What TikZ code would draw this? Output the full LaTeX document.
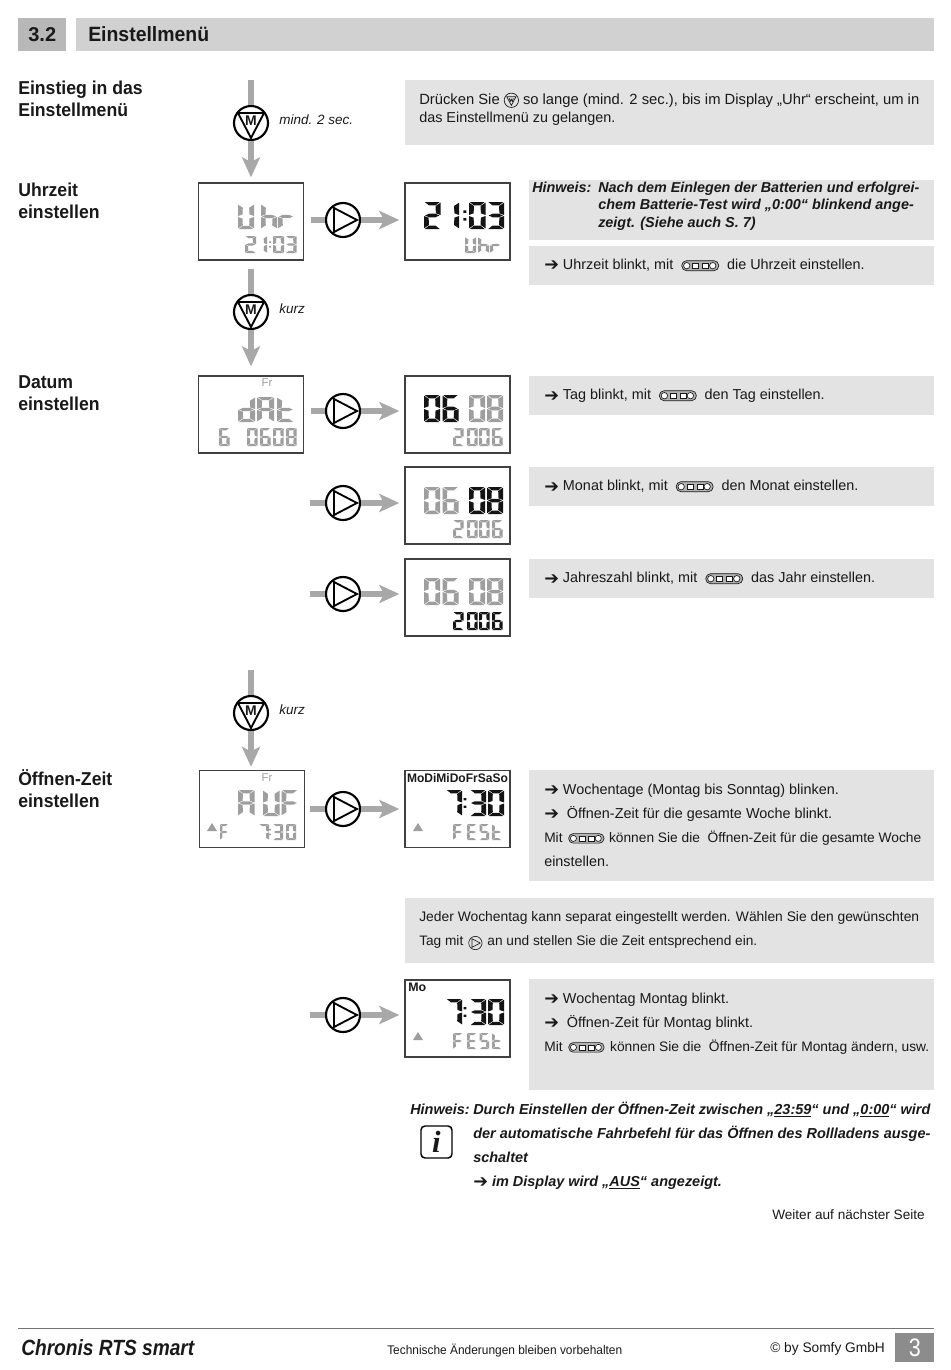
\documentclass[tikz,border=0pt]{standalone}
\usepackage{fontspec}
\usepackage{graphicx}
\setmainfont{Liberation Sans}
\newfontfamily\arrfont{DejaVu Sans}
\newfontfamily\ifont{Liberation Serif}
\usetikzlibrary{arrows.meta,positioning,calc}

\def\px{0.75pt}
\definecolor{panelgray}{gray}{0.89}
\definecolor{titlegray}{gray}{0.82}
\definecolor{numgray}{gray}{0.72}
\definecolor{pagegray}{gray}{0.55}
\definecolor{flowgray}{gray}{0.66}
\definecolor{lcdoff}{gray}{0.62}
\definecolor{lcdon}{gray}{0.08}

% seven segment cells, unit box 1 x 2
\newcommand{\defseg}[2]{\expandafter\def\csname seg#1\endcsname{#2}}
\newcommand{\defglyph}[2]{\expandafter\def\csname glyph#1\endcsname{#2}}
\defseg{a}{(.05,0) -- (.95,0) -- (.7,.25) -- (.3,.25) -- cycle}
\defseg{b}{(1,.05) -- (1,.96) -- (.72,.84) -- (.7,.3) -- cycle}
\defseg{c}{(1,1.04) -- (1,1.95) -- (.7,1.7) -- (.72,1.16) -- cycle}
\defseg{d}{(.05,2) -- (.95,2) -- (.7,1.75) -- (.3,1.75) -- cycle}
\defseg{e}{(0,1.04) -- (0,1.95) -- (.3,1.7) -- (.28,1.16) -- cycle}
\defseg{f}{(0,.05) -- (0,.96) -- (.28,.84) -- (.3,.3) -- cycle}
\defseg{g}{(.07,1) -- (.3,.87) -- (.7,.87) -- (.93,1) -- (.7,1.13) -- (.3,1.13) -- cycle}
\defseg{k}{(.41,.62) rectangle (.59,.8) (.41,1.2) rectangle (.59,1.38)}
\defglyph{0}{a,b,c,d,e,f}
\defglyph{1}{b,c}
\defglyph{2}{a,b,d,e,g}
\defglyph{3}{a,b,c,d,g}
\defglyph{6}{a,c,d,e,f,g}
\defglyph{7}{a,b,c}
\defglyph{8}{a,b,c,d,e,f,g}
\defglyph{:}{k}
\defglyph{A}{a,b,c,e,f,g}
\defglyph{E}{a,d,e,f,g}
\defglyph{F}{a,e,f,g}
\defglyph{S}{a,c,d,f,g}
\defglyph{U}{b,c,d,e,f}
\defglyph{d}{b,c,d,e,g}
\defglyph{h}{c,e,f,g}
\defglyph{r}{e,g}
\defglyph{t}{d,e,f,g}
% \lcdrow{top}{cell width}{cell height}{colour}{x/char,...}
\newcommand{\lcdrow}[5]{%
  \foreach \gx/\gc in {#5} {%
    \begin{scope}[shift={(\gx,#1)}, xscale=#2, yscale=#3/2]
      \edef\seglist{\csname glyph\gc\endcsname}
      \foreach \gs in \seglist {%
        \expandafter\let\expandafter\segpath\csname seg\gs\endcsname
        \fill[#4] \segpath;
      }
    \end{scope}
  }%
}

% small key symbols used inside the running text
\newcommand{\kicon}{\tikz[baseline=-3pt, x=\px, y=-\px, line width=.5pt]{
  \draw[fill=gray!60, rounded corners=3.6pt] (0,-5) rectangle (37,5);
  \draw[fill=white] (5,0) circle (3.2);
  \draw[fill=white] (11,-2.6) rectangle (17,2.6);
  \draw[fill=white] (21,-2.6) rectangle (27,2.6);
  \draw[fill=white] (31,0) circle (3.2);}}
\newcommand{\micon}{\tikz[baseline=-3.2pt, x=\px, y=-\px, line width=.5pt]{
  \draw (0,0) circle (7);
  \draw (-4.5,-3.5) -- (4.5,-3.5) -- (0,5) -- cycle;
  \draw (-2,-2) -- (-1,1) -- (0,-1) -- (1,1) -- (2,-2);}}
\newcommand{\picon}{\tikz[baseline=-1.8pt, x=\px, y=-\px, line width=.5pt]{
  \draw (0,0) circle (7);
  \draw (-3.5,-4.5) -- (5,0) -- (-3.5,4.5) -- cycle;}}
\newcommand{\arr}{\raisebox{-.09em}{\scalebox{1.22}{\arrfont ➔}}}
\newcommand{\lw}[2]{\resizebox{\dimexpr 0.75pt*#1\relax}{!}{#2}}

% key nodes with their symbols
\newcommand{\menukey}[2]{%
  \node[keyring] (#1) at (#2) {};
  \draw[keysign] ([shift={(-13,-10)}]#1.center) -- ([shift={(13,-10)}]#1.center)
    -- ([shift={(0,15)}]#1.center) -- cycle;
  \node[font=\bfseries\fontsize{10.5}{10}\selectfont, inner sep=0pt] (#1m)
    at ([shift={(0,-2.5)}]#1.center) {M};
}
\newcommand{\playkey}[2]{%
  \node[keyring] (#1) at (#2) {};
  \draw[keysign] ([shift={(-9,-12)}]#1.center) -- ([shift={(14,0)}]#1.center)
    -- ([shift={(-9,12)}]#1.center) -- cycle;
}

\begin{document}
\begin{tikzpicture}[
  x=\px, y=-\px,
  every node/.style={text=black!90},
  panel/.style={fill=panelgray, inner sep=0pt, anchor=north west},
  lcdbox/.style={draw=black!75, fill=white, line width=1pt, minimum width=105*\px, minimum height=77*\px, inner sep=0pt},
  keyring/.style={circle, draw=black, fill=white, line width=1.6pt, minimum size=34*\px, inner sep=0pt},
  keysign/.style={draw=black, line width=1.4pt, line join=miter},
  flow/.style={draw=flowgray, line width=4pt},
  flowarr/.style={flow, -{Stealth[length=15pt, width=13.5pt, inset=3.5pt]}},
  head/.style={anchor=north west, inner sep=0pt, align=left, font=\bfseries\fontsize{14}{16.5}\selectfont},
  body/.style={anchor=north west, inner sep=0pt, align=left, font=\fontsize{10.8}{13.4}\selectfont},
  wide/.style={body, font=\fontsize{10.8}{18}\selectfont},
  note/.style={anchor=north west, inner sep=0pt, align=left, font=\bfseries\itshape\fontsize{10.8}{13.2}\selectfont},
  notewide/.style={note, font=\bfseries\itshape\fontsize{10.85}{18}\selectfont},
  hint/.style={anchor=west, inner sep=0pt, yshift=2.2pt, font=\itshape\fontsize{10.1}{12}\selectfont},
  daytext/.style={inner sep=0pt},
]
  \useasboundingbox (0,0) rectangle (950,1370);

  % Title bar
  \node[panel, fill=numgray, minimum width=48*\px, minimum height=33*\px] (numbar) at (18,18) {};
  \node[panel, fill=titlegray, minimum width=858*\px, minimum height=33*\px] (titlebar) at (76,18) {};
  \node[inner sep=0pt, font=\bfseries\fontsize{15}{16}\selectfont] (num) at (numbar) {3.2};
  \node[inner sep=0pt, anchor=west, font=\bfseries\fontsize{15.5}{16}\selectfont] (title) at (88,34.5) {\scalebox{.94}[1]{Einstellmenü}};

  % Left column
  \node[head] (hentry) at (18,80.5) {\scalebox{.945}[1]{Einstieg in das}\\\scalebox{.945}[1]{Einstellmenü}};
  \node[head] (hclock) at (18,183) {\scalebox{.945}[1]{Uhrzeit}\\\scalebox{.945}[1]{einstellen}};
  \node[head] (hdate) at (18,375.5) {\scalebox{.945}[1]{Datum}\\\scalebox{.945}[1]{einstellen}};
  \node[head] (hopen) at (18,769.5) {\scalebox{.945}[1]{Öffnen-Zeit}\\\scalebox{.945}[1]{einstellen}};

  % Grey text panels
  \node[panel, minimum width=529*\px, minimum height=65*\px] (pentry) at (405,80) {};
  \node[panel, minimum width=405*\px, minimum height=60*\px] (phint) at (529,180) {};
  \node[panel, minimum width=405*\px, minimum height=39*\px] (pclock) at (529,246) {};
  \node[panel, minimum width=405*\px, minimum height=39*\px] (pday) at (529,376) {};
  \node[panel, minimum width=405*\px, minimum height=39*\px] (pmonth) at (529,467) {};
  \node[panel, minimum width=405*\px, minimum height=39*\px] (pyear) at (529,559) {};
  \node[panel, minimum width=405*\px, minimum height=111*\px] (pweek) at (529,770) {};
  \node[panel, minimum width=529*\px, minimum height=65*\px] (pany) at (405,898) {};
  \node[panel, minimum width=405*\px, minimum height=111*\px] (pmon) at (529,979) {};

  % Panel texts
  \node[body] (tentry) at (419,92.5) {\lw{500}{Drücken Sie \micon\ so lange (mind. 2 sec.), bis im Display „Uhr“ erscheint, um in}\\das Einstellmenü zu gelangen.};
  \node[note] (thint) at (532,181.5) {Hinweis:};
  \node[note] (thint2) at (598,181.5) {\lw{321}{Nach dem Einlegen der Batterien und erfolgrei-}\\chem Batterie-Test wird „0:00“ blinkend ange-\\zeigt. (Siehe auch S. 7)};
  \node[body] (tclock) at (544,259) {\arr\ Uhrzeit blinkt, mit\ \ \kicon\ \ die Uhrzeit einstellen.};
  \node[body] (tday) at (544,389) {\arr\ Tag blinkt, mit\ \ \kicon\ \ den Tag einstellen.};
  \node[body] (tmonth) at (544,480) {\arr\ Monat blinkt, mit\ \ \kicon\ \ den Monat einstellen.};
  \node[body] (tyear) at (544,572) {\arr\ Jahreszahl blinkt, mit\ \ \kicon\ \ das Jahr einstellen.};
  \node[wide] (tweek) at (544,783.5) {\arr\ Wochentage (Montag bis Sonntag) blinken.\\\arr\ \ Öffnen-Zeit für die gesamte Woche blinkt.\\\lw{377}{Mit\kern4.5pt\kicon\kern3.7pt können Sie die\ \ Öffnen-Zeit für die gesamte Woche}\\einstellen.};
  \node[wide] (tany) at (419,911) {\lw{500}{Jeder Wochentag kann separat eingestellt werden. Wählen Sie den gewünschten}\\\lw{338}{Tag mit\kern4pt\picon\kern4pt an und stellen Sie die Zeit entsprechend ein.}};
  \node[wide] (tmon) at (544,992.5) {\arr\ Wochentag Montag blinkt.\\\arr\ \ Öffnen-Zeit für Montag blinkt.\\\lw{385}{Mit\kern4.5pt\kicon\kern4.5pt können Sie die\ \ Öffnen-Zeit für Montag ändern, usw.}};

  % Entry arrow
  \coordinate (sentry) at (251,80);
  \menukey{kentry}{251,123}
  \node[hint, right=10*\px of kentry] (lentry) {mind. 2 sec.};

  % Clock displays
  \node[lcdbox] (dclock) at (251,221.5) {};
  \node[lcdbox] (dclocktwo) at (457.5,221.5) {};
  \lcdrow{204}{16}{25}{lcdoff}{238/U,261/h,278/r}
  \lcdrow{236}{11}{17}{lcdoff}{245/2,256/1,264.5/:,273/0,285.5/3}
  \lcdrow{202}{16.5}{27}{lcdon}{424/2,442.5/1,456.7/:,469/0,487.5/3}
  \lcdrow{237}{11}{16}{lcdoff}{465/U,478/h,490/r}
  \playkey{kclock}{343,220}
  \menukey{kdate}{251,312}
  \node[hint, right=10*\px of kdate] (ldate) {kurz};
  \coordinate (sdate) at (251,269);

  % Date displays
  \node[lcdbox] (ddate) at (251,414.5) {};
  \node[lcdbox] (dday) at (457.5,414.5) {};
  \node[lcdbox] (dmonth) at (457.5,505.5) {};
  \node[lcdbox] (dyear) at (457.5,597.5) {};
  \node[daytext, text=lcdoff, font=\fontsize{8.5}{9}\selectfont] (frdate) at (267,383) {Fr};
  \lcdrow{397}{17}{25}{lcdoff}{238/d,257/A,277/t}
  \lcdrow{428}{10.5}{18}{lcdoff}{219/6,247/0,260/6,273/0,286/8}
  \lcdrow{395}{16}{27}{lcdon}{424/0,442.5/6}
  \lcdrow{395}{16}{27}{lcdoff}{469/0,487/8}
  \lcdrow{428}{10.5}{18}{lcdoff}{453/2,467/0,479/0,492/6}
  \lcdrow{487}{16}{27}{lcdoff}{424/0,442.5/6}
  \lcdrow{487}{16}{27}{lcdon}{469/0,487/8}
  \lcdrow{520}{10.5}{18}{lcdoff}{453/2,467/0,479/0,492/6}
  \lcdrow{578}{16}{27}{lcdoff}{424/0,442.5/6,469/0,487/8}
  \lcdrow{612}{10.5}{18}{lcdon}{453/2,467/0,479/0,492/6}
  \playkey{kday}{343,411}
  \playkey{kmonth}{343,503}
  \playkey{kyear}{343,594}
  \coordinate (smonth) at (310,503);
  \coordinate (syear) at (310,594);

  % Opening time displays
  \coordinate (sopen) at (251,670);
  \menukey{kopen}{251,713}
  \node[hint, right=10*\px of kopen] (lopen) {kurz};
  \node[lcdbox] (dopen) at (252,809) {};
  \node[lcdbox] (dweek) at (457.5,809) {};
  \node[lcdbox] (dmon) at (457.5,1018.5) {};
  \node[daytext, text=lcdoff, font=\fontsize{8.5}{9}\selectfont] (fropen) at (267,778) {Fr};
  \lcdrow{790}{16.5}{26}{lcdoff}{238/A,263/U,281.5/F}
  \fill[lcdoff] (207,831) -- (212,823) -- (217,831) -- cycle;
  \lcdrow{824}{8}{16}{lcdoff}{220/F}
  \lcdrow{824}{10}{16}{lcdoff}{259/7,265/:,273/3,286/0}
  \node[daytext, font=\bfseries\fontsize{9.3}{10}\selectfont] (days) at (457.5,778.5) {\scalebox{.97}[1]{MoDiMiDoFrSaSo}};
  \lcdrow{790}{16}{26}{lcdon}{446/7,457/:,470/3,488/0}
  \fill[lcdoff] (413,831) -- (418,823) -- (423,831) -- cycle;
  \lcdrow{824}{9.5}{16}{lcdoff}{453/F,467/E,479.5/S,492/t}
  \node[daytext, anchor=west, font=\bfseries\fontsize{9.3}{10}\selectfont] (mon) at (408,987.5) {Mo};
  \lcdrow{999}{16}{26}{lcdon}{446/7,457/:,470/3,488/0}
  \fill[lcdoff] (413,1040) -- (418,1032) -- (423,1040) -- cycle;
  \lcdrow{1033}{9.5}{16}{lcdoff}{453/F,467/E,479.5/S,492/t}
  \playkey{kweek}{343,809}
  \playkey{kmon}{343,1015}
  \coordinate (smon) at (310,1015);

  % Arrows down the key column
  \draw[flow] (sentry) -- (kentry.north);
  \draw[flowarr, shorten >=5*\px] (kentry.south) -- (dclock.north);
  \draw[flow] (sdate) -- (kdate.north);
  \draw[flowarr, shorten >=9*\px] (kdate.south) -- (ddate.north);
  \draw[flow] (sopen) -- (kopen.north);
  \draw[flowarr, shorten >=3*\px] (kopen.south) -- (kopen |- dopen.north);

  % Arrows into the right hand displays
  \draw[flow, shorten <=7*\px] (dclock.east |- kclock) -- (kclock.west);
  \draw[flowarr, shorten >=5*\px] (kclock.east) -- (dclocktwo.west |- kclock);
  \draw[flow, shorten <=7*\px] (ddate.east |- kday) -- (kday.west);
  \draw[flowarr, shorten >=5*\px] (kday.east) -- (dday.west |- kday);
  \draw[flow] (smonth) -- (kmonth.west);
  \draw[flowarr, shorten >=5*\px] (kmonth.east) -- (dmonth.west |- kmonth);
  \draw[flow] (syear) -- (kyear.west);
  \draw[flowarr, shorten >=5*\px] (kyear.east) -- (dyear.west |- kyear);
  \draw[flow, shorten <=5*\px] (dopen.east |- kweek) -- (kweek.west);
  \draw[flowarr, shorten >=5*\px] (kweek.east) -- (dweek.west |- kweek);
  \draw[flow] (smon) -- (kmon.west);
  \draw[flowarr, shorten >=5*\px] (kmon.east) -- (dmon.west |- kmon);

  % Closing note
  \node[notewide] (nhint) at (410,1103.5) {Hinweis:};
  \node[notewide] (nhint2) at (473,1102) {Durch Einstellen der Öffnen-Zeit zwischen „\underline{23:59}“ und „\underline{0:00}“ wird\\der automatische Fahrbefehl für das Öffnen des Rollladens ausge-\\schaltet\\\arr\ im Display wird „\underline{AUS}“ angezeigt.};
  \node[draw, rounded corners=3pt, line width=1.1pt, minimum width=31*\px, minimum height=32*\px, inner sep=0pt, font=\ifont\bfseries\itshape\fontsize{23}{24}\selectfont] (info) at (436.5,1142) {i};
  \node[anchor=west, inner sep=0pt, font=\fontsize{10.2}{12}\selectfont] (more) at (772,1215) {Weiter auf nächster Seite};

  % Footer
  \coordinate (fleft) at (18,1328.5);
  \coordinate (fright) at (934,1328.5);
  \draw[black!55, line width=.7pt] (fleft) -- (fright);
  \node[anchor=west, inner sep=0pt, font=\bfseries\itshape\fontsize{16.5}{17}\selectfont] (prod) at (21,1348) {\scalebox{.87}[1]{Chronis RTS smart}};
  \node[anchor=west, inner sep=0pt, font=\fontsize{9.4}{10}\selectfont] (legal) at (387,1350.5) {\scalebox{.95}[1]{Technische Änderungen bleiben vorbehalten}};
  \node[anchor=west, inner sep=0pt, font=\fontsize{10.4}{11}\selectfont] (copy) at (770,1349) {\scalebox{.99}[1]{© by Somfy GmbH}};
  \node[panel, fill=pagegray, minimum width=39*\px, minimum height=29*\px] (pagebox) at (895,1333) {};
  \node[inner sep=0pt, text=white, font=\fontsize{19}{20}\selectfont] (page) at (pagebox) {\scalebox{.85}[1]{3}};
\end{tikzpicture}
\end{document}
